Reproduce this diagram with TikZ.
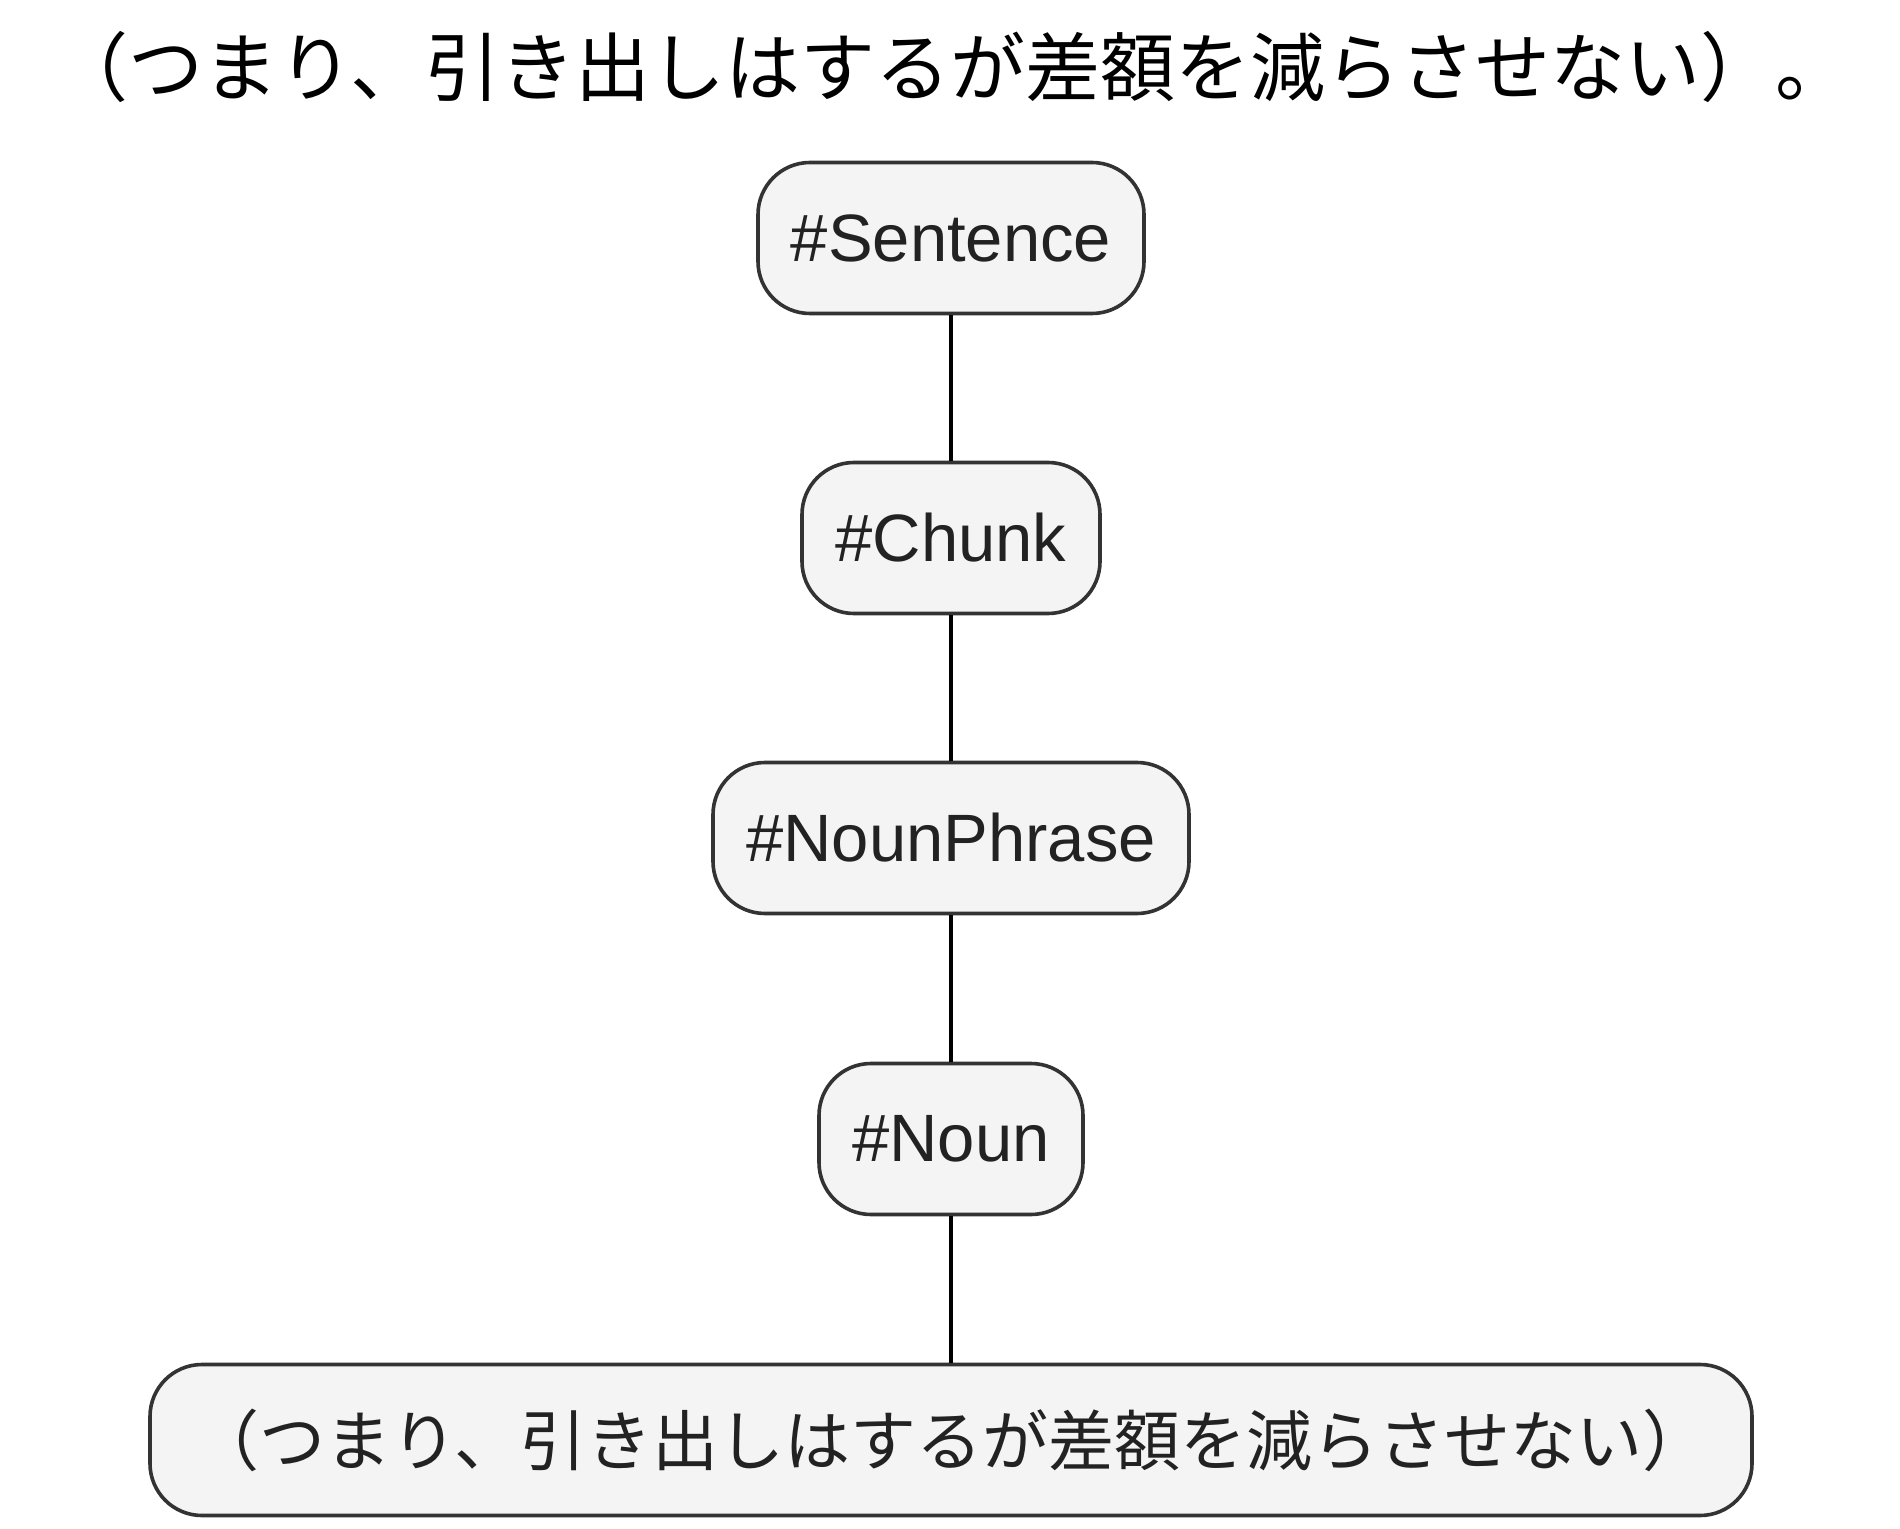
\documentclass[tikz,border=0pt]{standalone}
\usepackage{fontspec}
\setmainfont{Liberation Sans}
\newfontfamily\cjk{Noto Sans CJK JP}
\definecolor{boxfill}{HTML}{F4F4F4}
\definecolor{boxline}{HTML}{333333}
\definecolor{txt}{HTML}{222222}
\begin{document}
\begin{tikzpicture}[x=0.5pt,y=-0.5pt,
  nodebox/.style={draw=boxline, fill=boxfill, line width=1.8pt, rounded corners=26pt,
    inner sep=0pt, text=txt, font=\fontsize{33.5}{40}\selectfont, minimum height=75.5pt},
  conn/.style={draw=black, line width=1.8pt}]
\useasboundingbox (0,0) rectangle (1900,1529);
\node[font=\cjk\fontsize{37.5}{44}\selectfont, inner sep=0pt] (title) at (952,67) {（つまり、引き出しはするが差額を減らさせない）。};
\node[nodebox, minimum width=193pt] (s) at (951,238) {\#Sentence};
\node[nodebox, minimum width=149pt] (c) at (951,538) {\#Chunk};
\node[nodebox, minimum width=238pt] (np) at (951,838) {\#NounPhrase};
\node[nodebox, minimum width=132pt] (n) at (951,1139) {\#Noun};
\node[nodebox, minimum width=801pt, font=\cjk\fontsize{33}{40}\selectfont] (b) at (951,1440) {（つまり、引き出しはするが差額を減らさせない）};
\draw[conn] (s) -- (c);
\draw[conn] (c) -- (np);
\draw[conn] (np) -- (n);
\draw[conn] (n) -- (b);
\end{tikzpicture}
\end{document}
